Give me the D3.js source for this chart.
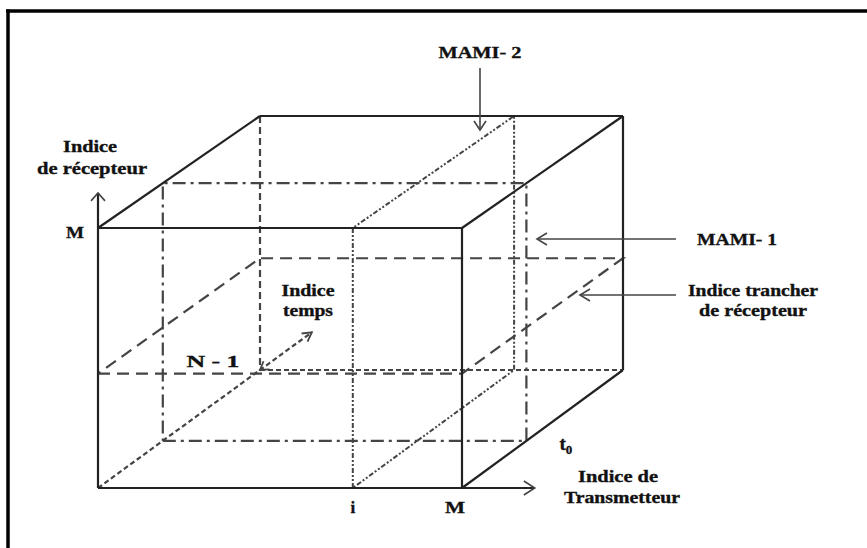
<!DOCTYPE html>
<html>
<head>
<meta charset="utf-8">
<script src="https://cdn.jsdelivr.net/npm/d3@7"></script>
<style>
  html, body { margin: 0; padding: 0; background: #fff; }
  svg { display: block; }
  text { font-family: "Liberation Serif", "Times New Roman", serif; font-weight: bold; fill: #111; stroke: #111; stroke-width: 0.35px; }
</style>
</head>
<body>
<svg id="chart" width="867" height="548"></svg>
<script>
// ---------- data (index space: x = transmitter, y = receiver, z = time; 0..1 = 0..M / 0..N-1) ----------
const axisNames = ["Indice de Transmetteur", "Indice de récepteur", "Indice temps"];
const xTickLabels = ["i", "M"];
const xTickValues = [0.70, 1];
const yTickLabels = ["M"];
const yTickValues = [1];
const zTickLabels = ["t0", "N - 1"];
const zTickValues = [0.40, 1];
const planeNames = ["MAMI- 1", "MAMI- 2", "Indice trancher de récepteur"];
const planeAxes = ["z", "x", "y"];
const planeValues = [0.40, 0.70, 0.44];

// ---------- projection scales (front face z=0, back face z=1) ----------
const xFront = d3.scaleLinear().domain([0, 1]).range([98, 462]);
const xBack  = d3.scaleLinear().domain([0, 1]).range([260, 623]);
const yFront = d3.scaleLinear().domain([0, 1]).range([488, 228]);
const yBack  = d3.scaleLinear().domain([0, 1]).range([370, 116]);
const zMix = d3.scaleLinear().domain([0, 1]).range([0, 1]);
function P(x, y, z) {
  const t = zMix(z);
  return [xFront(x) + (xBack(x) - xFront(x)) * t, yFront(y) + (yBack(y) - yFront(y)) * t];
}

const svg = d3.select("#chart");
const line = d3.line();

// frame
svg.append("line").attr("x1", 6).attr("y1", 11).attr("x2", 867).attr("y2", 11)
  .attr("stroke", "#000").attr("stroke-width", 3.5);
svg.append("line").attr("x1", 8).attr("y1", 9.5).attr("x2", 8).attr("y2", 548)
  .attr("stroke", "#000").attr("stroke-width", 3.5);

const g = svg.append("g").attr("fill", "none").attr("stroke-linecap", "butt");

function seg(a, b, style) {
  const p = g.append("path").attr("d", line([P(...a), P(...b)]))
    .attr("stroke", style.color || "#333").attr("stroke-width", style.w || 2);
  if (style.dash) p.attr("stroke-dasharray", style.dash);
  return p;
}
function poly(pts, style, closed) {
  const pp = pts.map(d => P(...d));
  if (closed) pp.push(pp[0]);
  const p = g.append("path").attr("d", line(pp))
    .attr("stroke", style.color || "#333").attr("stroke-width", style.w || 2);
  if (style.dash) p.attr("stroke-dasharray", style.dash);
  return p;
}
function chevron(tip, from, len, hw, color, w) {
  const dx = tip[0] - from[0], dy = tip[1] - from[1];
  const L = Math.hypot(dx, dy), ux = dx / L, uy = dy / L;
  const bx = tip[0] - ux * len, by = tip[1] - uy * len;
  const a = [bx - uy * hw, by + ux * hw], b = [bx + uy * hw, by - ux * hw];
  svg.append("path").attr("d", line([a, tip, b])).attr("fill", "none")
    .attr("stroke", color || "#444").attr("stroke-width", w || 1.6);
}

const solid = { color: "#222", w: 2.2 };
const hidden = { color: "#444", w: 2.2, dash: "7,4" };
const hiddenShort = { color: "#444", w: 2.2, dash: "5,3" };
const sliceStyle = { color: "#444", w: 2.2, dash: "12,7" };
const t0Style = { color: "#444", w: 2.2, dash: "13,5,3,5" };
const mami2Style = { color: "#444", w: 2, dash: "5,2,2,2,2,2" };

// hidden edges
seg([0, 1, 1], [0, 0, 1], hidden);
seg([0, 0, 1], [1, 0, 1], hiddenShort);
seg([0, 0, 0], [0, 0, 1.32], hiddenShort);

// planes
const zPlane = planeValues[planeAxes.indexOf("z")];
poly([[0, 0, zPlane], [1, 0, zPlane], [1, 1, zPlane], [0, 1, zPlane]], t0Style, true);
const xPlane = planeValues[planeAxes.indexOf("x")];
poly([[xPlane, 0, 0], [xPlane, 1, 0], [xPlane, 1, 1], [xPlane, 0, 1]], mami2Style, true);
const yPlane = planeValues[planeAxes.indexOf("y")];
poly([[0, yPlane, 0], [1, yPlane, 0], [1, yPlane, 1], [0, yPlane, 1]], sliceStyle, true);

// solid visible edges
seg([0, 1, 0], [1, 1, 0], solid);
seg([1, 1, 0], [1, 0, 0], solid);
seg([0, 1, 0], [0, 1, 1], solid);
seg([0, 1, 1], [1, 1, 1], solid);
seg([1, 1, 1], [1, 1, 0], solid);
seg([1, 1, 1], [1, 0, 1], solid);
seg([1, 0, 0], [1, 0, 1], solid);
// axes
seg([0, 0, 0], [0, 1.135, 0], solid);
seg([0, 0, 0], [1.2, 0, 0], solid);
chevron(P(0, 1.135, 0), P(0, 0, 0), 8, 7, "#444", 1.6);
chevron(P(1.2, 0, 0), P(0, 0, 0), 11, 7, "#444", 1.6);
// time arrow heads
chevron(P(0, 0, 1.32), P(0, 0, 0), 9, 5, "#444", 1.8);
chevron(P(0, 0, 1.0), P(0, 0, 1.32), 8, 5, "#444", 1.8);

// ---------- labels ----------
function label(txt, x, y, len, anchor) {
  const t = svg.append("text").attr("x", x).attr("y", y).attr("font-size", 17)
    .attr("text-anchor", anchor || "middle").text(txt);
  if (len) t.attr("textLength", len).attr("lengthAdjust", "spacingAndGlyphs");
  return t;
}
// receiver axis title
const recWords = axisNames[1].split(" ");
label(recWords[0], 90, 152, 54);
label(recWords.slice(1).join(" "), 92, 174, 110);
// transmitter axis title
const trWords = axisNames[0].split(" ");
label(trWords.slice(0, 2).join(" "), 618, 482, 80);
label(trWords.slice(2).join(" "), 622, 503, 116);
// time axis title
const tmWords = axisNames[2].split(" ");
label(tmWords[0], 308, 296, 53);
label(tmWords[1], 308, 316, 50);

// ticks
const yT = P(0, yTickValues[0], 0);
label(yTickLabels[0], yT[0] - 23, yT[1] + 10, 18);
xTickLabels.forEach((s, k) => {
  const p = P(xTickValues[k], 0, 0);
  label(s, p[0] - (s === "M" ? 7 : 0), p[1] + 25, s === "M" ? 20 : null);
});
// t0
const t0p = P(1, 0, zTickValues[0]);
const t0 = svg.append("text").attr("x", t0p[0] + 33).attr("y", t0p[1] + 9).attr("font-size", 19).attr("text-anchor", "start");
t0.append("tspan").text(zTickLabels[0][0]);
t0.append("tspan").attr("font-size", 13).attr("dy", 4).text(zTickLabels[0].slice(1));
// N - 1
label(zTickLabels[1], 213, 367, 53);

// plane annotations with arrows
label(planeNames[1], 480, 58, 83);
svg.append("line").attr("x1", 480).attr("y1", 68).attr("x2", 480).attr("y2", 130).attr("stroke", "#444").attr("stroke-width", 1.6);
chevron([480, 130], [480, 68], 9, 6, "#444", 1.6);

label(planeNames[0], 737, 245, 80);
svg.append("line").attr("x1", 676).attr("y1", 239).attr("x2", 537).attr("y2", 239).attr("stroke", "#444").attr("stroke-width", 1.6);
chevron([537, 239], [676, 239], 10, 6, "#444", 1.6);

const slWords = planeNames[2].split(" ");
label(slWords.slice(0, 2).join(" "), 753, 296, 130);
label(slWords.slice(2).join(" "), 753, 316, 108);
svg.append("line").attr("x1", 676).attr("y1", 295).attr("x2", 580).attr("y2", 295).attr("stroke", "#444").attr("stroke-width", 1.6);
chevron([580, 295], [676, 295], 10, 6, "#444", 1.6);
</script>
</body>
</html>
